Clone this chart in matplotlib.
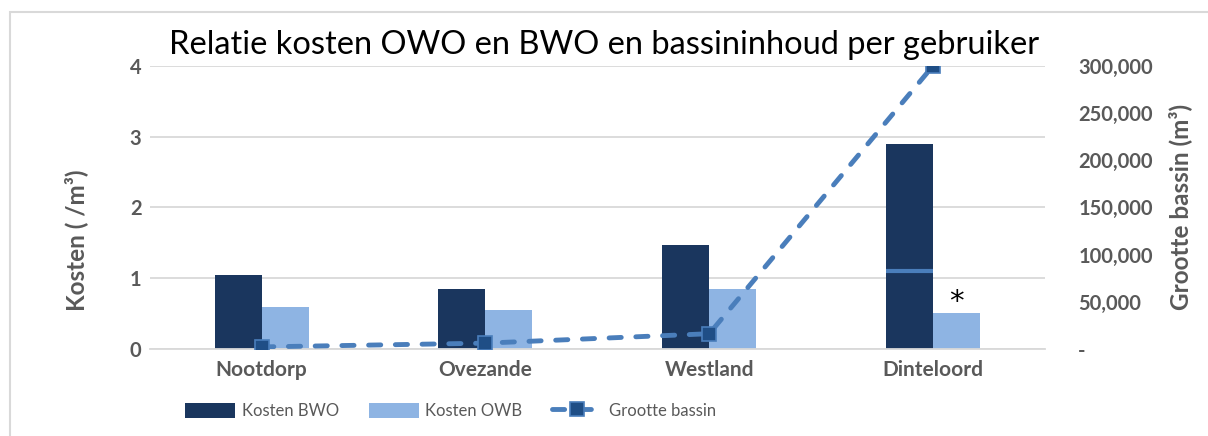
import matplotlib.pyplot as plt
from matplotlib.patches import Rectangle
from matplotlib.ticker import FuncFormatter
import numpy as np

plt.rcParams['font.family'] = ['Lato', 'DejaVu Sans']

locaties = ['Nootdorp', 'Ovezande', 'Westland', 'Dinteloord']
kosten_bwo = [1.05, 0.84, 1.47, 2.89]
kosten_owb = [0.59, 0.55, 0.85, 0.51]
grootte_bassin = [2000, 6000, 16000, 300000]
dinteloord_lijn = 1.10

grijs = '#595959'
donker = '#1A365E'
licht = '#8EB4E3'
lijnkleur = '#4A7EBB'

fig = plt.figure(figsize=(12.08, 4.36), dpi=100)
ax = fig.add_axes([0.124, 0.2, 0.741, 0.649])
ax2 = ax.twinx()

x = np.arange(len(locaties))
w = 0.21
ax.bar(x - w / 2, kosten_bwo, w, color=donker, label='Kosten BWO', zorder=2)
ax.bar(x + w / 2, kosten_owb, w, color=licht, label='Kosten OWB', zorder=2)
ax.hlines(dinteloord_lijn, x[3] - w, x[3], color=lijnkleur, lw=3, zorder=3)
ax.text(x[3] + w / 2, kosten_owb[3] - 0.05, '*', ha='center', va='bottom',
        fontsize=21, color='black', family='DejaVu Sans')

ax2.plot(x, grootte_bassin, color=lijnkleur, lw=3.5, ls=(0, (2.5, 3)),
         dash_capstyle='round', marker='s', markersize=10,
         markerfacecolor='#1F4E86', markeredgecolor=lijnkleur,
         markeredgewidth=1.2, label='Grootte bassin', zorder=4)

ax.set_xlim(-0.5, 3.5)
ax.set_ylim(0, 4)
ax2.set_ylim(0, 300000)
ax.set_yticks([0, 1, 2, 3, 4])
ax2.set_yticks(range(0, 300001, 50000))
ax2.yaxis.set_major_formatter(FuncFormatter(lambda v, p: '-' if v == 0 else f'{int(v):,}'))

ax.set_xticks(x)
ax.set_xticklabels(locaties, fontsize=15, fontweight='bold', color=grijs)
ax.grid(axis='y', color='#D9D9D9', lw=1.3, zorder=0)
ax.set_axisbelow(True)

for a in (ax, ax2):
    for s in a.spines.values():
        s.set_visible(False)
    a.tick_params(length=0, labelsize=14.5, labelcolor=grijs)
ax.tick_params(axis='x', labelsize=15, pad=8)
ax.tick_params(axis='y', pad=6)
ax2.tick_params(axis='y', pad=24)
ax.spines['bottom'].set_visible(True)
ax.spines['bottom'].set_color('#D9D9D9')
ax.spines['bottom'].set_linewidth(1.3)
for lbl in ax.get_yticklabels() + ax2.get_yticklabels():
    lbl.set_fontweight('bold')

ax.set_ylabel('Kosten ( /m³)', fontsize=17.5, fontweight='bold', color=grijs)
ax.yaxis.set_label_coords(-0.069, 0.385)
ax2.set_ylabel('Grootte bassin (m³)', fontsize=17.5, fontweight='bold', color=grijs, labelpad=11)

fig.text(0.5, 0.897, 'Relatie kosten OWO en BWO en bassininhoud per gebruiker',
         ha='center', va='center', fontsize=23.5, color='black')

h1, l1 = ax.get_legend_handles_labels()
h2, l2 = ax2.get_legend_handles_labels()
fig.legend(h1 + h2, l1 + l2, loc='center', bbox_to_anchor=(0.373, 0.058), ncol=3,
           frameon=False, fontsize=12, labelcolor=grijs, handlelength=3.0,
           handleheight=1.0, columnspacing=1.8, handletextpad=0.4)

fig.patches.append(Rectangle((0.008, -0.1), 1.5, 1.073, transform=fig.transFigure,
                             fill=False, edgecolor='#D9D9D9', lw=1.5))

fig.savefig('out.png', dpi=100)
